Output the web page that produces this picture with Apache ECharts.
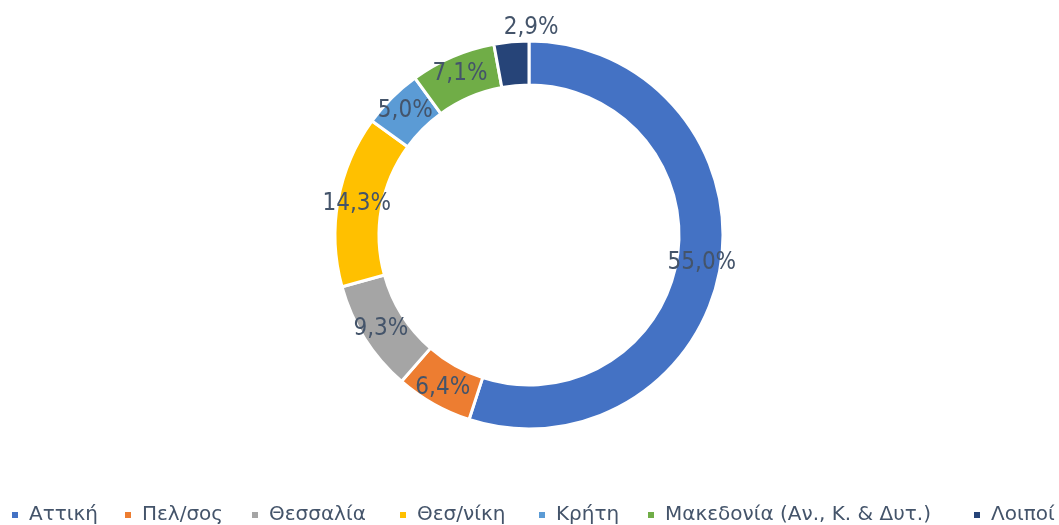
<!DOCTYPE html>
<html>
<head>
<meta charset="utf-8">
<script src="https://cdn.jsdelivr.net/npm/echarts@6/dist/echarts.min.js"></script>
<style>
html,body{margin:0;padding:0;background:#fff;}
#chart{width:1059px;height:525px;}
</style>
</head>
<body>
<div id="chart"></div>
<script>
var categories = ['Αττική', 'Πελ/σος', 'Θεσσαλία', 'Θεσ/νίκη', 'Κρήτη', 'Μακεδονία (Αν., Κ. & Δυτ.)', 'Λοιποί'];
var shares = [55.0, 6.4, 9.3, 14.3, 5.0, 7.1, 2.9];
var colors = ['#4472C4', '#ED7D31', '#A5A5A5', '#FFC000', '#5B9BD5', '#70AD47', '#264478'];

var LABEL_FONT = '"DejaVu Sans Condensed", "DejaVu Sans", sans-serif';
var LEGEND_FONT = '"DejaVu Sans", sans-serif';
var TXT = '#44546A';
var legendLefts = [10, 123, 250, 398, 537, 646, 972];

var data = categories.map(function (c, i) {
  var d = { name: c, value: shares[i], itemStyle: { color: colors[i] } };
  if (i === categories.length - 1) {
    d.label = { offset: [18, -33] };
  }
  return d;
});

var legends = categories.map(function (c, i) {
  return {
    data: [c],
    left: legendLefts[i] - 5,
    top: 500,
    padding: [5, 0, 5, 5],
    orient: 'horizontal',
    width: 600,
    itemWidth: 8,
    itemHeight: 8,
    icon: 'rect',
    selectedMode: false,
    textStyle: { fontFamily: LEGEND_FONT, fontSize: 20, color: TXT, padding: [0, 0, 0, 5] }
  };
});

var chart = echarts.init(document.getElementById('chart'), null, { renderer: 'canvas' });
chart.setOption({
  animation: false,
  backgroundColor: '#ffffff',
  legend: legends,
  series: [{
    type: 'pie',
    center: [529, 235],
    radius: [150, 194],
    startAngle: 90,
    clockwise: true,
    avoidLabelOverlap: false,
    itemStyle: { borderColor: '#ffffff', borderWidth: 3 },
    label: {
      show: true,
      position: 'inside',
      fontFamily: LABEL_FONT,
      fontSize: 24,
      color: TXT,
      formatter: function (p) { return p.value.toFixed(1).replace('.', ',') + '%'; }
    },
    labelLine: { show: false },
    emphasis: { disabled: true },
    data: data
  }]
});
</script>
</body>
</html>
